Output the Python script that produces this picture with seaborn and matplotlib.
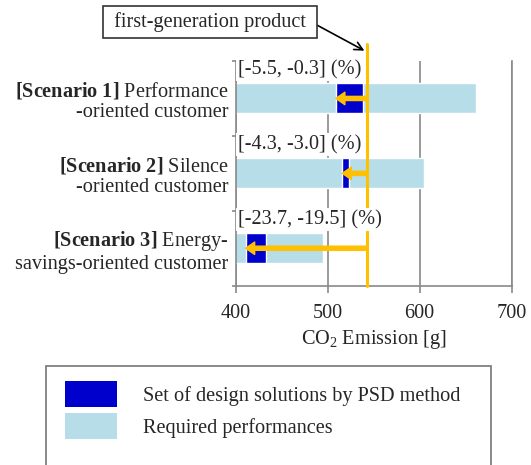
import matplotlib
matplotlib.use("Agg")
import matplotlib.pyplot as plt
from matplotlib.patches import Patch, Rectangle
import numpy as np
import pandas as pd
import seaborn as sns

##############################################
#                 DATA
##############################################
scenarios = ["Scenario 1", "Scenario 2", "Scenario 3"]
scenario_labels = [
    r"$\mathbf{[Scenario\ 1]}$ Performance" + "\n-oriented customer",
    r"$\mathbf{[Scenario\ 2]}$ Silence" + "\n-oriented customer",
    r"$\mathbf{[Scenario\ 3]}$ Energy-" + "\nsavings-oriented customer",
]
required_max = [661, 605, 495]      # required performance (upper end), g
psd_low = [509, 516, 411]           # set of design solutions by PSD
psd_high = [538, 523, 433]
range_labels = ["[-5.5, -0.3] (%)", "[-4.3, -3.0] (%)", "[-23.7, -19.5] (%)"]
first_gen = 543                     # first-generation product
x_ticks = [400, 500, 600, 700]
legend_labels = ["Set of design solutions by PSD method", "Required performances"]

DARK = "#0000CC"
LIGHT = "#B7DDE8"
ORANGE = "#FFC000"
GRAY = "#898989"

##############################################
#                 PLOT
##############################################
sns.set_theme(style="white")
plt.rcParams["font.family"] = ["Liberation Serif", "DejaVu Serif"]
plt.rcParams["mathtext.fontset"] = "custom"
plt.rcParams["mathtext.rm"] = "Liberation Serif"
plt.rcParams["mathtext.bf"] = "Liberation Serif:bold"
plt.rcParams["mathtext.it"] = "Liberation Serif:italic"
plt.rcParams["mathtext.default"] = "rm"
fs = 14.6

W, H = 531, 465
fig = plt.figure(figsize=(W / 100, H / 100), dpi=100)
ax = fig.add_axes([235.5 / W, 1 - 285.7 / H, (511.7 - 235.5) / W, (285.7 - 61) / H])

df = pd.DataFrame({"scenario": scenarios, "required": required_max,
                   "low": psd_low, "high": psd_high})
ypos = np.arange(len(scenarios))

sns.barplot(data=df, x="required", y="scenario", orient="h", color=LIGHT,
            saturation=1, width=0.4, ax=ax, zorder=2)
ax.barh(ypos, df["high"] - df["low"], left=df["low"], height=0.4,
        color=DARK, zorder=3)

# first-generation line + arrows to the PSD sets
ax.axvline(first_gen, ymin=0, ymax=1.076, color=ORANGE, lw=2.2,
           clip_on=False, zorder=5)
for i in ypos:
    ax.annotate("", xy=(psd_low[i], i), xytext=(first_gen, i),
                arrowprops=dict(facecolor=ORANGE, edgecolor=ORANGE, width=3,
                                headwidth=9, headlength=6.5, shrink=0),
                zorder=4)
    ax.text(403, i - 0.385, range_labels[i], ha="left", va="center",
            fontsize=fs, zorder=6,
            bbox=dict(fc="white", ec="none", pad=1.5))

ax.set_xlim(400, 700)
ax.set_xticks(x_ticks)
ax.set_xticklabels([str(t) for t in x_ticks], fontsize=fs)
ax.set_yticks(ypos)
ax.set_yticklabels(scenario_labels, fontsize=fs, linespacing=1.1)
ax.set_yticks([-0.5, 0.5, 1.5, 2.5], minor=True)
ax.set_ylim(2.5, -0.5)
ax.set_ylabel("")
ax.set_xlabel("CO$_2$ Emission [g]", fontsize=fs, labelpad=4)

ax.grid(axis="x", color=GRAY, lw=1.2)
ax.grid(axis="y", visible=False)
ax.set_axisbelow(True)
ax.tick_params(axis="x", bottom=True, length=5, width=1.2, color=GRAY, pad=8)
ax.tick_params(axis="y", which="major", left=False, length=0, pad=5)
ax.tick_params(axis="y", which="minor", left=True, length=3, width=1.2, color=GRAY)
for s in ["left", "bottom", "right"]:
    ax.spines[s].set_color(GRAY)
    ax.spines[s].set_linewidth(1.2)
ax.spines["top"].set_visible(False)

ax.annotate(" first-generation product ", xy=(540, 1.046),
            xycoords=("data", "axes fraction"),
            xytext=(210 / W, 1 - 21.9 / H), textcoords="figure fraction",
            ha="center", va="center", fontsize=fs,
            bbox=dict(boxstyle="square,pad=0.28", fc="white", ec="#333333", lw=1.2),
            arrowprops=dict(arrowstyle="->", color="black", lw=1.2,
                            relpos=(1, 0.5), shrinkA=0, shrinkB=0))

# legend (frame runs off the bottom of the picture)
em = fs * 100 / 72
handles = [Patch(facecolor=DARK, edgecolor="none"),
           Patch(facecolor=LIGHT, edgecolor="none")]
fig.legend(handles, legend_labels, loc="upper left",
           bbox_to_anchor=(65 / W, 1 - 381 / H), frameon=False,
           borderpad=0, borderaxespad=0, fontsize=fs,
           handlelength=52 / em, handleheight=32 / em,
           labelspacing=6.3 / em, handletextpad=26 / em)
fig.add_artist(Rectangle((45.7 / W, -0.1), (491 - 45.7) / W, 0.1 + 1 - 366 / H,
                         transform=fig.transFigure, fill=False,
                         ec="#808080", lw=1.3))

fig.savefig("out.png", dpi=100)
